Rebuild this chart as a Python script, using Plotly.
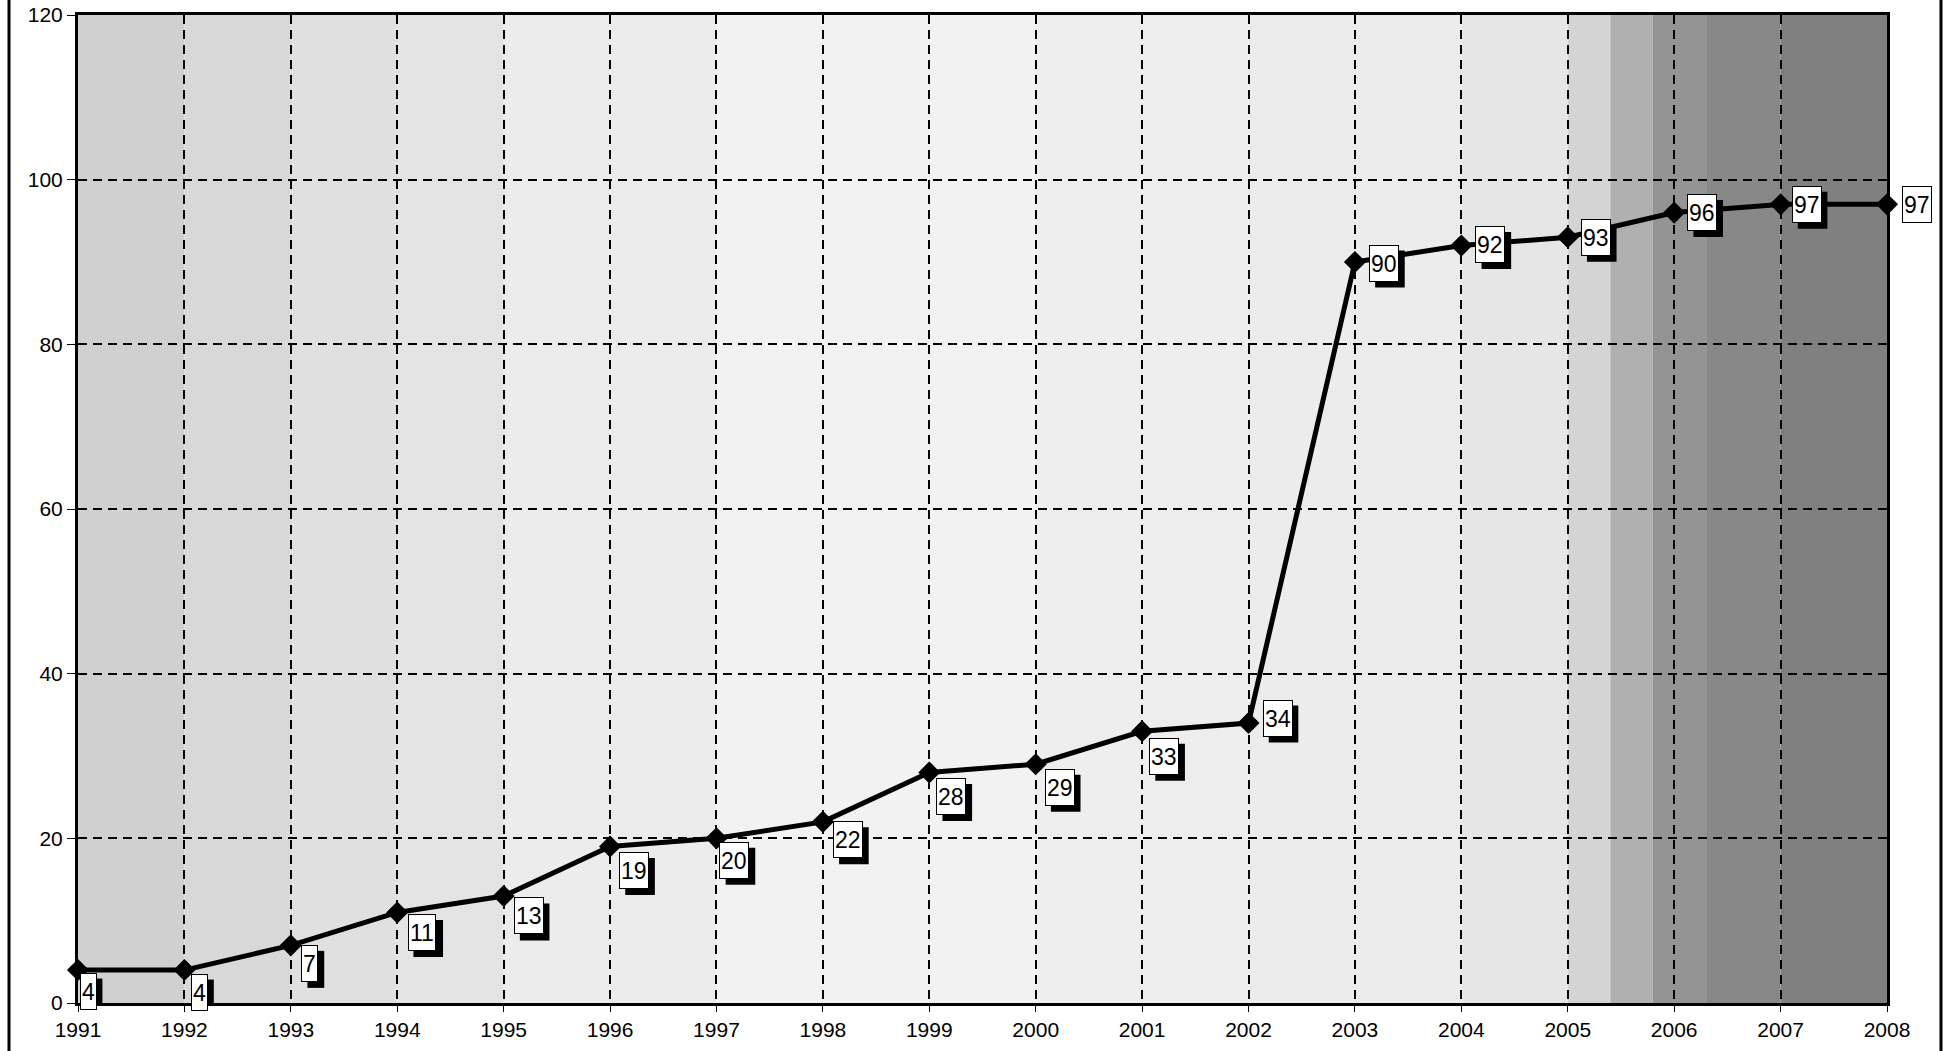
import plotly.graph_objects as go

years = [1991, 1992, 1993, 1994, 1995, 1996, 1997, 1998, 1999, 2000,
         2001, 2002, 2003, 2004, 2005, 2006, 2007, 2008]
values = [4, 4, 7, 11, 13, 19, 20, 22, 28, 29, 33, 34, 90, 92, 93, 96, 97, 97]
y_ticks = [0, 20, 40, 60, 80, 100, 120]

# label offsets in pixels (dx right, dy down)
label_dx = [10, 15, 19, 25, 25, 24, 18, 25, 22, 24, 22, 29, 29, 29, 28, 28, 26, 30]
label_dy = [21, 22, 18, 20, 20, 24, 22, 18, 24, 23, 25, -5, 1, -1, 0, 0, 0, 0]

W, H = 1954, 1051
BODY = 0  # page body margin removed via post_script
ML, MR, MT, MB = 78 - BODY, 67 + BODY, 15 - BODY, 48 + BODY

fig = go.Figure()

fig.add_trace(go.Scatter(
    x=years, y=values, mode="lines+markers",
    line=dict(color="black", width=5),
    marker=dict(symbol="diamond", size=17, color="black"),
    cliponaxis=False, showlegend=False, hoverinfo="x+y",
))

# background tone strips (approximating the scanned texture)
strips = [
    (1991.0, 1992.0, "#d0d0d0"), (1992.0, 1993.0, "#d8d8d8"),
    (1993.0, 1994.0, "#e0e0e0"), (1994.0, 1995.0, "#e4e4e4"),
    (1995.0, 1997.0, "#ececec"), (1997.0, 2000.0, "#f2f2f2"),
    (2000.0, 2002.0, "#eeeeee"), (2002.0, 2004.0, "#ececec"),
    (2004.0, 2005.0, "#e6e6e6"), (2005.0, 2005.4, "#d4d4d4"),
    (2005.4, 2005.8, "#b0b0b0"), (2005.8, 2006.3, "#949494"),
    (2006.3, 2007.0, "#888888"), (2007.0, 2008.0, "#808080"),
]
shapes = []
for x0, x1, c in strips:
    shapes.append(dict(type="rect", xref="x", yref="y", x0=x0, x1=x1, y0=0, y1=120,
                       fillcolor=c, line=dict(width=0), layer="below"))

# outer frame (left and right lines of the page border)
pw = W - ML - MR
ph = H - MT - MB
def px_to_paper_x(px):
    return (px - BODY - ML) / pw
def px_to_paper_y(py):
    return (H + BODY - MB - py) / ph
for fx in (9, 1941):
    shapes.append(dict(type="line", xref="paper", yref="paper",
                       x0=px_to_paper_x(fx), x1=px_to_paper_x(fx),
                       y0=px_to_paper_y(1051), y1=px_to_paper_y(0),
                       line=dict(color="black", width=3), layer="above"))

FS = 23
BOX_H = 37
annotations = []
for x, v, dx, dy in zip(years, values, label_dx, label_dy):
    w = len(str(v)) * 12.8 + 4
    shapes.append(dict(
        type="rect", xref="x", yref="y", xsizemode="pixel", ysizemode="pixel",
        xanchor=x, yanchor=v,
        x0=dx - w / 2 + 6, x1=dx + w / 2 + 6,
        y0=-dy - BOX_H / 2 - 6, y1=-dy + BOX_H / 2 - 6,
        fillcolor="black", line=dict(width=0), layer="above",
    ))
    annotations.append(dict(
        x=x, y=v, xref="x", yref="y", text=str(v), showarrow=False,
        xshift=dx, yshift=-dy, xanchor="center", yanchor="middle",
        font=dict(family="Liberation Sans, Arial", size=FS, color="black"),
        bgcolor="white", bordercolor="black", borderwidth=1, borderpad=1, height=33,
    ))

fig.update_layout(
    width=W, height=H,
    margin=dict(l=ML, r=MR, t=MT, b=MB, pad=0, autoexpand=False),
    paper_bgcolor="white", plot_bgcolor="white",
    font=dict(family="Liberation Sans, Arial", size=21, color="black"),
    shapes=shapes, annotations=annotations, showlegend=False,
    xaxis=dict(
        range=[1991, 2008], tickmode="array", tickvals=years,
        ticktext=[str(y) for y in years],
        showgrid=True, gridcolor="black", gridwidth=1.5, griddash="9px,6px",
        showline=True, linecolor="black", linewidth=3, mirror=True,
        ticks="outside", ticklen=6, tickcolor="black", zeroline=False,
        tickfont=dict(size=21), ticklabeloverflow="allow", automargin=False,
    ),
    yaxis=dict(
        range=[0, 120], tickmode="array", tickvals=y_ticks,
        showgrid=True, gridcolor="black", gridwidth=1.5, griddash="9px,6px",
        showline=True, linecolor="black", linewidth=3, mirror=True,
        ticks="outside", ticklen=8, tickcolor="black", zeroline=False,
        tickfont=dict(size=21), ticklabeloverflow="allow", automargin=False,
    ),
)

fig.write_html("out.html", config={"displayModeBar": False},
               post_script="document.body.style.margin='0px';")
